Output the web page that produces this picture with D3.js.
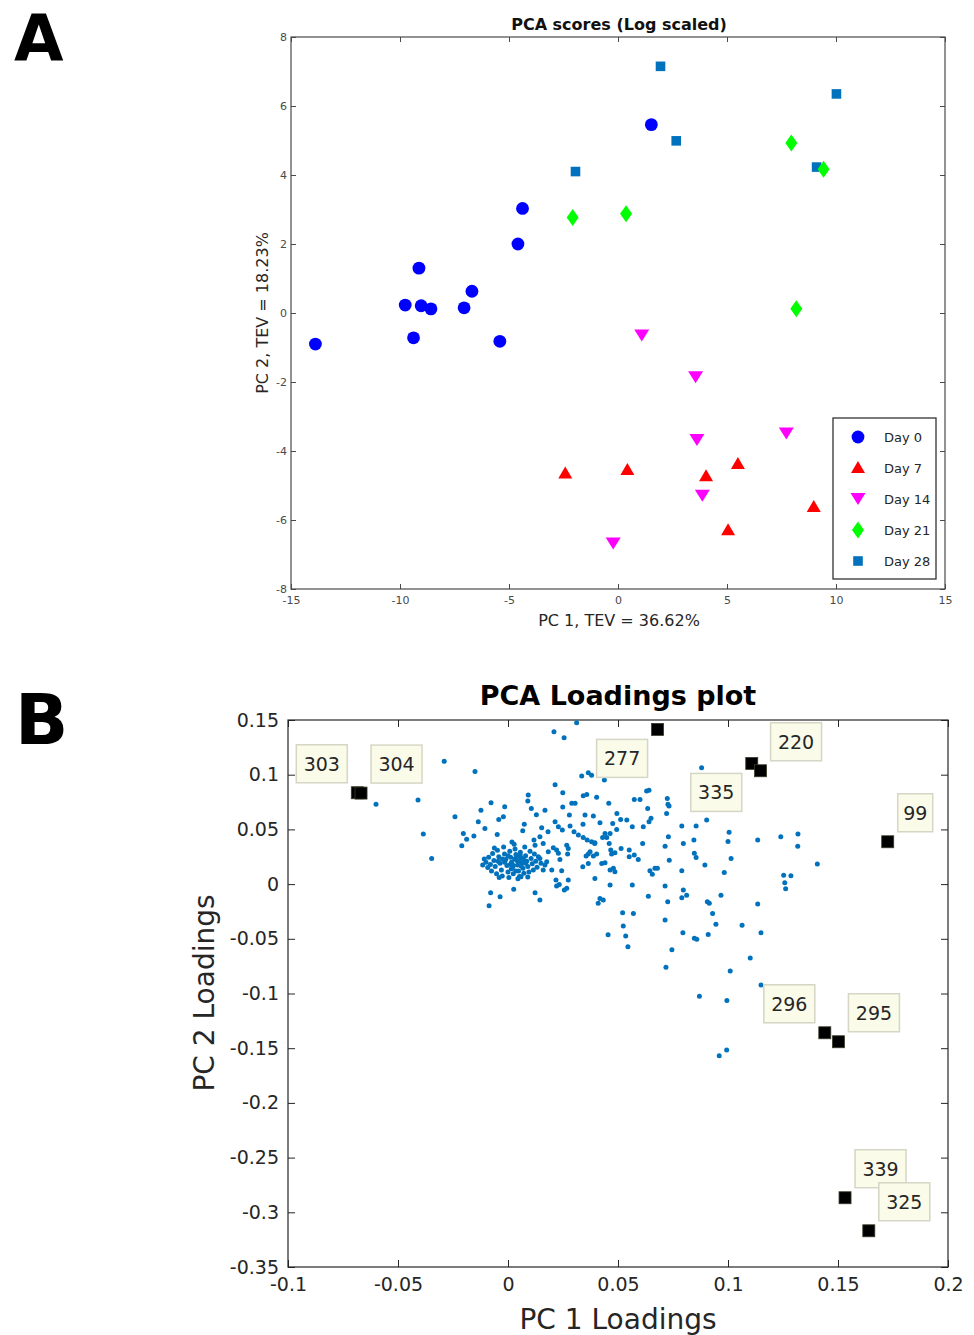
<!DOCTYPE html>
<html>
<head>
<meta charset="utf-8">
<script src="https://cdn.jsdelivr.net/npm/d3@7"></script>
<style>
  body { margin: 0; background: #fff; }
  text { font-family: "DejaVu Sans", sans-serif; }
</style>
</head>
<body>
<div id="chart"></div>
<script>
// ---- Panel A: PCA scores ----
const groups = ["Day 0", "Day 7", "Day 14", "Day 21", "Day 28"];
const day0 = [[1.53, 5.46], [-4.38, 3.03], [-4.59, 2.0], [-9.13, 1.30], [-6.70, 0.63], [-9.76, 0.23],
  [-9.03, 0.21], [-8.58, 0.12], [-7.06, 0.15], [-13.88, -0.90], [-9.38, -0.72], [-5.42, -0.82]];
const day7 = [[-2.42, -4.65], [0.43, -4.55], [4.04, -4.73], [5.50, -4.38], [5.05, -6.30], [8.98, -5.62]];
const day14 = [[1.09, -0.65], [3.56, -1.86], [3.62, -3.68], [7.72, -3.49], [3.87, -5.30], [-0.22, -6.68]];
const day21 = [[-2.08, 2.77], [0.37, 2.88], [7.95, 4.93], [9.43, 4.17], [8.18, 0.12]];
const day28 = [[1.95, 7.15], [2.67, 4.99], [-1.95, 4.10], [10.02, 6.35], [9.11, 4.23]];
const scoreTicksX = [-15, -10, -5, 0, 5, 10, 15];
const scoreLabelsX = ["-15", "-10", "-5", "0", "5", "10", "15"];
const scoreTicksY = [-8, -6, -4, -2, 0, 2, 4, 6, 8];
const scoreLabelsY = ["-8", "-6", "-4", "-2", "0", "2", "4", "6", "8"];

// ---- Panel B: PCA loadings ----
const loadings = [
  // upper strays
  [0.0312, 0.1474], [0.0209, 0.1392], [0.0255, 0.1337], [-0.0290, 0.1122], [-0.0150, 0.1030],
  [0.0880, 0.1063], [0.0335, 0.0987], [0.0365, 0.1017], [0.0380, 0.0996],
  // far left
  [-0.0600, 0.0731], [-0.0409, 0.0768], [-0.0385, 0.0457], [-0.0347, 0.0235], [-0.0241, 0.0615],
  // main cloud
  [0.0214, 0.0908], [0.0438, 0.0951], [0.0249, 0.0835], [0.0092, 0.0814], [0.0090, 0.0759],
  [-0.0077, 0.0743], [-0.0015, 0.0707], [-0.0123, 0.0676], [0.0106, 0.0692], [0.0129, 0.0633],
  [0.0168, 0.0676], [0.0249, 0.0704], [0.0290, 0.0738], [0.0305, 0.0738], [0.0342, 0.0807],
  [0.0358, 0.0820], [0.0403, 0.0793], [0.0458, 0.0738], [0.0574, 0.0774], [0.0600, 0.0774],
  [0.0630, 0.0850], [0.0641, 0.0859], [0.0724, 0.0783], [0.0727, 0.0731], [0.0732, 0.0713],
  [0.0721, 0.0646], [0.0635, 0.0692], [-0.0203, 0.0463], [-0.0188, 0.0409], [-0.0210, 0.0350],
  [-0.0155, 0.0439], [-0.0135, 0.0569], [-0.0105, 0.0509], [-0.0049, 0.0454], [-0.0021, 0.0615],
  [-0.0042, 0.0591], [0.0074, 0.0546], [0.0067, 0.0487], [0.0153, 0.0515], [0.0182, 0.0478],
  [0.0214, 0.0569], [0.0229, 0.0524], [0.0247, 0.0494], [0.0279, 0.0631], [0.0341, 0.0548],
  [0.0350, 0.0631], [0.0388, 0.0622], [0.0300, 0.0478], [0.0320, 0.0448], [0.0342, 0.0427],
  [0.0360, 0.0402], [0.0380, 0.0387], [0.0394, 0.0372], [0.0418, 0.0560], [0.0441, 0.0463],
  [0.0449, 0.0427], [0.0430, 0.0427], [0.0460, 0.0372], [0.0495, 0.0646], [0.0512, 0.0591],
  [0.0540, 0.0585], [0.0476, 0.0555], [0.0494, 0.0500], [0.0565, 0.0524], [0.0615, 0.0524],
  [0.0641, 0.0569], [0.0650, 0.0601], [0.0790, 0.0530], [0.0855, 0.0530], [0.0903, 0.0585],
  [0.0729, 0.0432], [0.0797, 0.0372], [0.0845, 0.0402], [0.0847, 0.0281], [0.0855, 0.0244],
  [0.0895, 0.0174], [0.0733, 0.0219], [0.0714, 0.0347], [0.0612, 0.0372], [0.0574, 0.0265],
  [0.0592, 0.0226], [0.0645, 0.0122], [0.0656, 0.0091], [0.0668, 0.0144], [0.0679, 0.0144],
  [0.0551, 0.0311], [0.0514, 0.0326], [0.0467, 0.0311], [0.0471, 0.0274], [0.0486, 0.0286],
  [0.0426, 0.0189], [0.0441, 0.0195], [0.0388, 0.0256], [0.0403, 0.0274], [0.0355, 0.0256],
  [0.0365, 0.0274], [0.0373, 0.0295], [0.0340, 0.0158], [0.0267, 0.0356], [0.0274, 0.0326],
  [0.0271, 0.0274], [0.0236, 0.0226], [0.0244, 0.0122], [0.0206, 0.0332], [0.0221, 0.0311],
  [0.0183, 0.0295], [0.0168, 0.0174], [0.0160, 0.0128], [0.0395, 0.0052], [0.0464, 0.0128],
  [0.0479, 0.0144], [0.0486, 0.0112], [0.0418, -0.0131], [0.0410, -0.0176], [0.0433, -0.0146],
  [0.0464, -0.0009], [0.0521, -0.0262], [0.0524, -0.0384], [0.0570, -0.0268], [0.0565, -0.0009],
  [0.0638, -0.0110], [0.0714, -0.0018], [0.0726, -0.0162], [0.0714, -0.0329], [0.0790, -0.0125],
  [0.0797, -0.0055], [0.0812, -0.0101], [0.0790, 0.0122], [0.0906, -0.0162], [0.0915, -0.0176],
  [0.0930, -0.0268], [0.0945, -0.0366], [0.0218, 0.0037], [0.0221, -0.0018], [0.0233, -0.0003],
  [0.0256, -0.0055], [0.0267, -0.0039], [0.0274, 0.0037], [0.0123, -0.0080], [0.0145, -0.0146],
  [0.0026, -0.0046], [-0.0036, -0.0116], [-0.0079, -0.0080], [-0.0086, -0.0198], [0.0059, 0.0067],
  [0.0282, 0.0530], [0.0464, 0.0463], [0.0395, 0.0378], [0.0145, 0.0432], [0.0160, 0.0372],
  [0.0229, 0.0281], [0.0145, 0.0235], [0.0365, 0.0189], [0.0551, 0.0250], [0.0176, 0.0204],
  [0.0199, 0.0128], [0.0123, 0.0356], [0.0118, 0.0402],
  // dense core
  [-0.0100, 0.0200], [-0.0092, 0.0152], [-0.0088, 0.0245], [-0.0080, 0.0180], [-0.0075, 0.0120],
  [-0.0070, 0.0280], [-0.0064, 0.0215], [-0.0058, 0.0160], [-0.0052, 0.0095], [-0.0048, 0.0310],
  [-0.0042, 0.0250], [-0.0036, 0.0190], [-0.0030, 0.0130], [-0.0026, 0.0075], [-0.0020, 0.0340],
  [-0.0016, 0.0275], [-0.0010, 0.0225], [-0.0005, 0.0170], [0.0000, 0.0110], [0.0004, 0.0060],
  [0.0008, 0.0300], [0.0012, 0.0245], [0.0016, 0.0200], [0.0020, 0.0150], [0.0024, 0.0095],
  [0.0028, 0.0365], [0.0032, 0.0320], [0.0036, 0.0270], [0.0040, 0.0215], [0.0044, 0.0175],
  [0.0048, 0.0120], [0.0052, 0.0070], [0.0056, 0.0290], [0.0060, 0.0240], [0.0064, 0.0195],
  [0.0068, 0.0145], [0.0072, 0.0100], [0.0076, 0.0340], [0.0080, 0.0260], [0.0085, 0.0210],
  [0.0090, 0.0160], [0.0095, 0.0110], [0.0100, 0.0300], [0.0105, 0.0235], [0.0110, 0.0185],
  [0.0115, 0.0130], [0.0120, 0.0275], [0.0126, 0.0210], [0.0132, 0.0155], [0.0138, 0.0250],
  [-0.0115, 0.0175], [-0.0108, 0.0230], [0.0018, 0.0385], [0.0045, 0.0050], [-0.0040, 0.0060],
  [0.0090, 0.0065], [-0.0062, 0.0330], [0.0150, 0.0190], [0.0010, 0.0180], [0.0030, 0.0230],
  [0.0050, 0.0210], [0.0025, 0.0170], [0.0000, 0.0260], [0.0060, 0.0165], [-0.0015, 0.0200],
  [0.0040, 0.0250], [0.0070, 0.0230], [-0.0025, 0.0230], [0.0015, 0.0140], [0.0035, 0.0120],
  [0.0080, 0.0190], [-0.0045, 0.0210], [0.0055, 0.0265],
  // right side
  [0.1005, 0.0473], [0.1000, 0.0390], [0.1014, 0.0235], [0.0983, 0.0107], [0.0968, -0.0103],
  [0.1135, 0.0402], [0.1240, 0.0432], [0.1318, 0.0457], [0.1317, 0.0347], [0.1406, 0.0183],
  [0.1253, 0.0082], [0.1286, 0.0076], [0.1258, 0.0012], [0.1262, -0.0043], [0.1135, -0.0183],
  [0.1064, -0.0375],
  // lower tail
  [0.0535, -0.0475], [0.0545, -0.0573], [0.0455, -0.0463], [0.0910, -0.0460], [0.0847, -0.0496],
  [0.0858, -0.0503], [0.0795, -0.0445], [0.0745, -0.0601], [0.0718, -0.0761], [0.0870, -0.1026],
  [0.0995, -0.1063], [0.1010, -0.0795], [0.1101, -0.0676], [0.1150, -0.0445], [0.1150, -0.0923],
  [0.0994, -0.1517], [0.0960, -0.1569]
];
const topIds = ["303", "304", "277", "335", "220", "99", "296", "295", "339", "325"];
const topX = [-0.0685, -0.0668, 0.0680, 0.1108, 0.1148, 0.1726, 0.1440, 0.1502, 0.1532, 0.1640];
const topY = [0.0835, 0.0832, 0.1414, 0.1103, 0.1036, 0.0387, -0.1359, -0.1441, -0.2867, -0.3169];
const loadTicksX = [-0.1, -0.05, 0, 0.05, 0.1, 0.15, 0.2];
const loadLabelsX = ["-0.1", "-0.05", "0", "0.05", "0.1", "0.15", "0.2"];
const loadTicksY = [-0.35, -0.3, -0.25, -0.2, -0.15, -0.1, -0.05, 0, 0.05, 0.1, 0.15];
const loadLabelsY = ["-0.35", "-0.3", "-0.25", "-0.2", "-0.15", "-0.1", "-0.05", "0", "0.05", "0.1", "0.15"];

// which corner each datatip box sits at (x, y direction)
const tipSide = {
  "303": [-1, -1], "304": [1, -1], "277": [-1, 1], "335": [-1, 1], "220": [1, -1],
  "99": [1, -1], "296": [-1, -1], "295": [1, -1], "339": [1, -1], "325": [1, -1]
};

const W = 974, H = 1335;
const svg = d3.select("#chart").append("svg")
    .attr("width", W)
    .attr("height", H);

// box axes with inward ticks on all four sides (MATLAB style)
function boxAxes(x, y, xv, xl, yv, yl, o) {
    const g = svg.append("g");
    const [l, r] = x.range();
    const [b, t] = y.range();
    g.append("g").attr("transform", `translate(0,${b})`)
        .call(d3.axisBottom(x).tickValues(xv).tickFormat((d, i) => xl[i])
            .tickSize(-o.tick).tickSizeOuter(0).tickPadding(o.padX));
    g.append("g").attr("transform", `translate(0,${t})`)
        .call(d3.axisTop(x).tickValues(xv).tickFormat("").tickSize(-o.tick).tickSizeOuter(0));
    g.append("g").attr("transform", `translate(${l},0)`)
        .call(d3.axisLeft(y).tickValues(yv).tickFormat((d, i) => yl[i])
            .tickSize(-o.tick).tickSizeOuter(0).tickPadding(o.padY));
    g.append("g").attr("transform", `translate(${r},0)`)
        .call(d3.axisRight(y).tickValues(yv).tickFormat("").tickSize(-o.tick).tickSizeOuter(0));
    g.selectAll(".domain").remove();
    g.selectAll(".tick line").attr("stroke", o.color);
    g.selectAll(".tick text")
        .attr("fill", o.text)
        .attr("font-size", o.fs)
        .attr("font-family", "DejaVu Sans, sans-serif");
    g.append("rect")
        .attr("x", l).attr("y", t)
        .attr("width", r - l).attr("height", b - t)
        .attr("fill", "none")
        .attr("stroke", o.color)
        .attr("stroke-width", o.lw);
}

// panel letters
svg.append("text").attr("x", 14).attr("y", 61)
    .attr("font-family", "Liberation Sans, Arial, sans-serif")
    .attr("font-weight", "bold").attr("font-size", 64).text("A");
svg.append("text").attr("x", 15).attr("y", 744)
    .attr("font-family", "Liberation Sans, Arial, sans-serif")
    .attr("font-weight", "bold").attr("font-size", 70).text("B");

// ================= Panel A =================
const xA = d3.scaleLinear().domain([-15, 15]).range([291, 945]);
const yA = d3.scaleLinear().domain([-8, 8]).range([589, 37]);

boxAxes(xA, yA, scoreTicksX, scoreLabelsX, scoreTicksY, scoreLabelsY,
    {tick: 5, padX: 7, padY: 4, color: "#4a4a4a", text: "#4a4a4a", fs: 11, lw: 1.2});

svg.append("text").attr("x", 619).attr("y", 30)
    .attr("text-anchor", "middle").attr("font-weight", "bold")
    .attr("font-size", 16).attr("fill", "#111")
    .text("PCA scores (Log scaled)");
svg.append("text").attr("x", 619).attr("y", 626)
    .attr("text-anchor", "middle").attr("font-size", 16).attr("fill", "#262626")
    .text("PC 1, TEV = 36.62%");
svg.append("text").attr("transform", "translate(268,313) rotate(-90)")
    .attr("text-anchor", "middle").attr("font-size", 16).attr("fill", "#262626")
    .text("PC 2, TEV = 18.23%");

// marker shapes
function marker(type) {
    const p = d3.path();
    if (type === "circle") {
        p.arc(0, 0, 6.4, 0, 2 * Math.PI);
    } else if (type === "up") {
        p.moveTo(0, -7); p.lineTo(7, 5); p.lineTo(-7, 5); p.closePath();
    } else if (type === "down") {
        p.moveTo(0, 6); p.lineTo(7.5, -6); p.lineTo(-7.5, -6); p.closePath();
    } else if (type === "diamond") {
        p.moveTo(0, -8.5); p.lineTo(6, 0); p.lineTo(0, 8.5); p.lineTo(-6, 0); p.closePath();
    } else {
        p.rect(-4.8, -4.8, 9.6, 9.6);
    }
    return p.toString();
}

const series = [
    {name: groups[0], data: day0, shape: "circle", color: "#0000ff"},
    {name: groups[1], data: day7, shape: "up", color: "#ff0000"},
    {name: groups[2], data: day14, shape: "down", color: "#ff00ff"},
    {name: groups[3], data: day21, shape: "diamond", color: "#00ff00"},
    {name: groups[4], data: day28, shape: "square", color: "#0072bd"}
];
// squares first so the green diamond sits over the overlapping square
const drawOrder = [series[4], series[0], series[1], series[2], series[3]];

drawOrder.forEach(s => {
    svg.append("g").selectAll("path")
        .data(s.data)
        .join("path")
        .attr("transform", d => `translate(${xA(d[0])},${yA(d[1])})`)
        .attr("d", marker(s.shape))
        .attr("fill", s.color);
});

// legend
const leg = svg.append("g").attr("transform", "translate(833,418)");
leg.append("rect").attr("width", 103).attr("height", 161)
    .attr("fill", "#fff").attr("stroke", "#333").attr("stroke-width", 1.3);
series.forEach((s, i) => {
    const yy = 19 + i * 31;
    leg.append("path").attr("transform", `translate(25,${yy})`)
        .attr("d", marker(s.shape)).attr("fill", s.color);
    leg.append("text").attr("x", 51).attr("y", yy)
        .attr("dominant-baseline", "central")
        .attr("font-size", 13).attr("fill", "#262626")
        .text(s.name);
});

// ================= Panel B =================
const xB = d3.scaleLinear().domain([-0.1, 0.2]).range([288, 948]);
const yB = d3.scaleLinear().domain([-0.35, 0.15]).range([1267, 720]);

boxAxes(xB, yB, loadTicksX, loadLabelsX, loadTicksY, loadLabelsY,
    {tick: 7, padX: 11, padY: 9, color: "#262626", text: "#262626", fs: 19, lw: 1.2});

svg.append("text").attr("x", 618).attr("y", 705)
    .attr("text-anchor", "middle").attr("font-weight", "bold")
    .attr("font-size", 27).attr("fill", "#000")
    .text("PCA Loadings plot");
svg.append("text").attr("x", 618).attr("y", 1329)
    .attr("text-anchor", "middle").attr("font-size", 28).attr("fill", "#262626")
    .text("PC 1 Loadings");
svg.append("text").attr("transform", "translate(214,993) rotate(-90)")
    .attr("text-anchor", "middle").attr("font-size", 28).attr("fill", "#262626")
    .text("PC 2 Loadings");

svg.append("g").selectAll("circle")
    .data(loadings)
    .join("circle")
    .attr("cx", d => xB(d[0]))
    .attr("cy", d => yB(d[1]))
    .attr("r", 2.5)
    .attr("fill", "#0072bd");

const tops = topIds.map((id, i) => ({id, x: topX[i], y: topY[i]}));

svg.append("g").selectAll("rect")
    .data(tops)
    .join("rect")
    .attr("x", d => xB(d.x) - 6)
    .attr("y", d => yB(d.y) - 6)
    .attr("width", 12).attr("height", 12)
    .attr("fill", "#000").attr("stroke", "#3a3a2a").attr("stroke-width", 0.8);

const tips = svg.append("g").selectAll("g")
    .data(tops)
    .join("g")
    .attr("transform", d => {
        const w = d.id.length * 16 + 3, h = 38;
        const [sx, sy] = tipSide[d.id];
        const bx = sx > 0 ? xB(d.x) + 10 : xB(d.x) - 10 - w;
        const by = sy < 0 ? yB(d.y) - 10 - h : yB(d.y) + 10;
        return `translate(${bx},${by})`;
    });
tips.append("rect")
    .attr("width", d => d.id.length * 16 + 3).attr("height", 38)
    .attr("fill", "#fbfbe9").attr("stroke", "#d6d6c6").attr("stroke-width", 1.5);
tips.append("text")
    .attr("x", d => (d.id.length * 16 + 3) / 2).attr("y", 19)
    .attr("text-anchor", "middle").attr("dominant-baseline", "central")
    .attr("font-size", 19).attr("fill", "#262626")
    .text(d => d.id);
</script>
</body>
</html>
